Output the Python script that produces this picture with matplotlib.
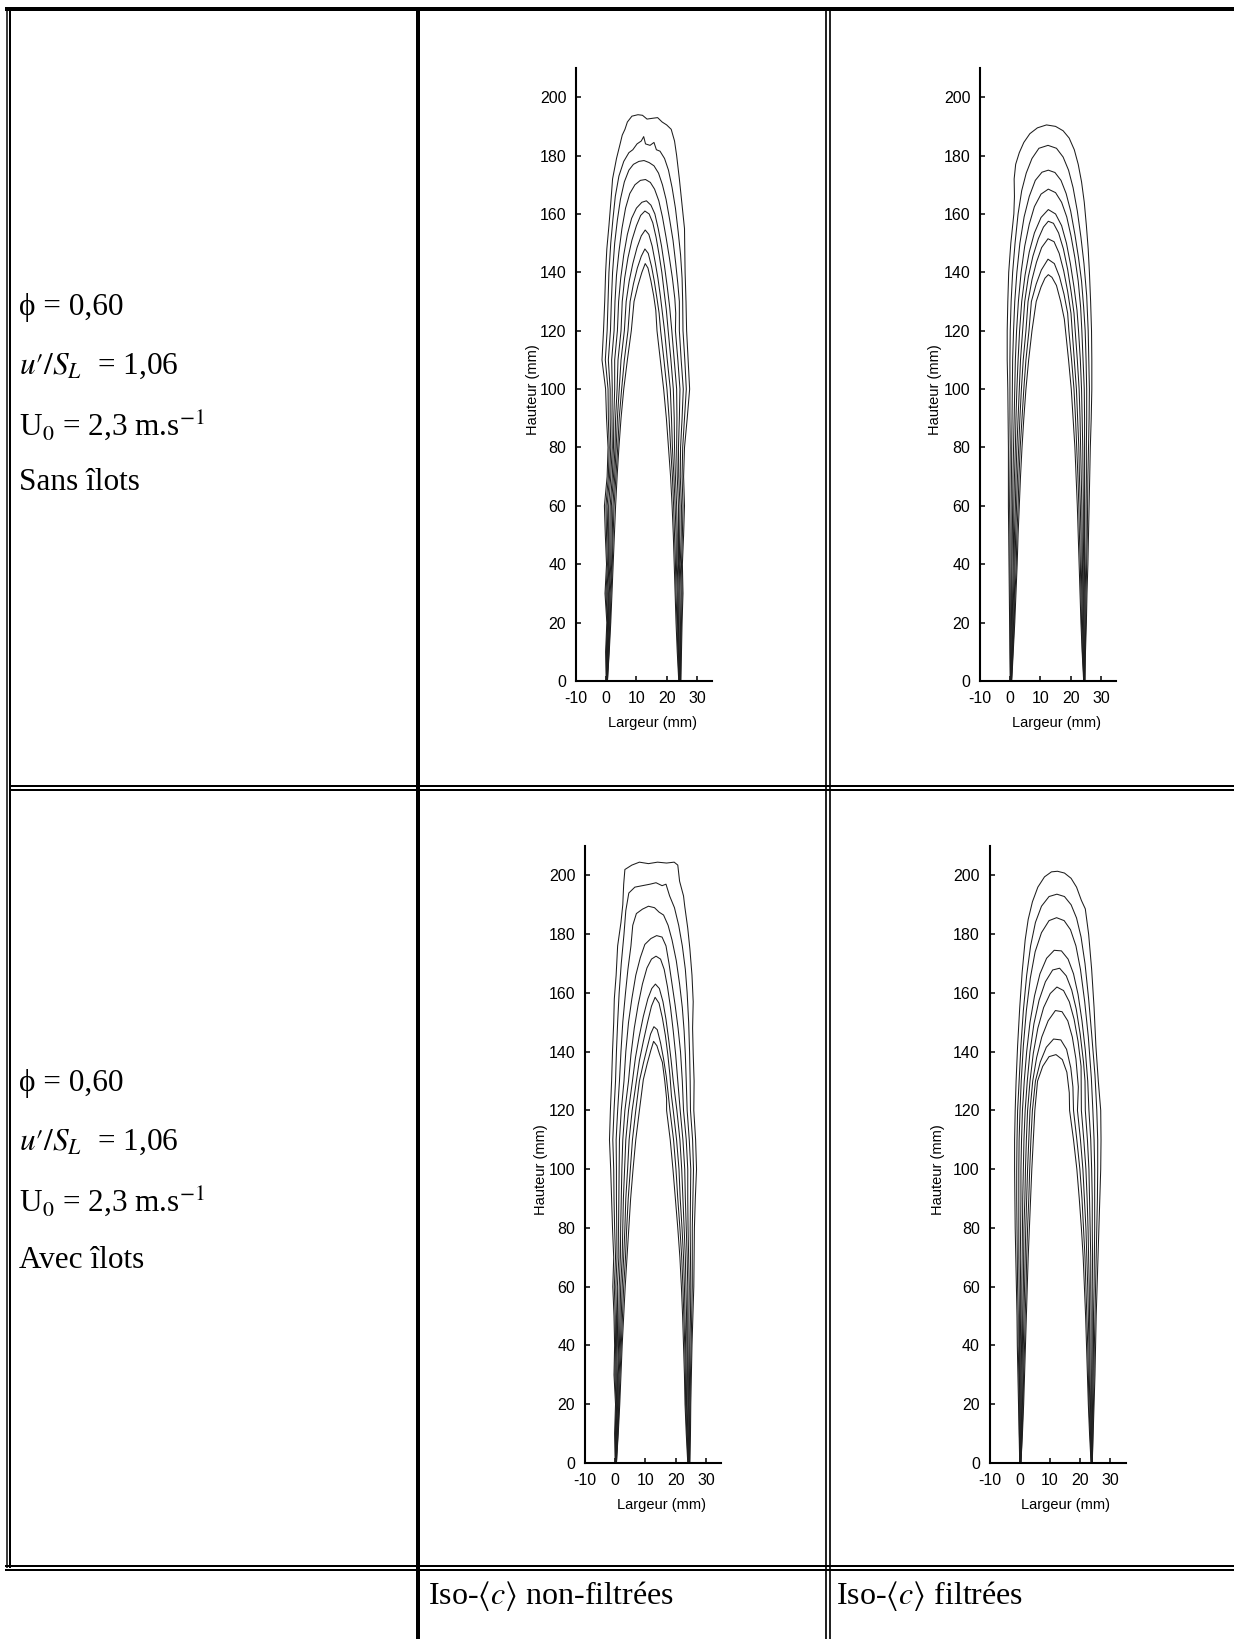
import numpy as np
import matplotlib.pyplot as plt
from matplotlib.lines import Line2D

plt.rcParams['mathtext.fontset'] = 'stix'
plt.rcParams['axes.unicode_minus'] = False

# --- taille de la page (px)
W, H = 1234, 1639

# --- niveaux de hauteur (mm) pour les flancs des iso-<c>
hauteurs = [0, 10, 20, 30, 40, 50, 60, 70, 80, 90, 100, 110, 120]

# ===== Sans ilots, non-filtrees : flanc gauche / flanc droit / calotte (k=0 ext. -> k=8 int.)
sans_brut_g = [
	[0.0, -0.2, 0.2, -0.4, 0.1, -0.3, -0.6, 0.3, 0.6, 0.1, -0.2, -1.4, -0.9],
	[0.1, 0.0, 0.4, -0.1, 0.4, 0.1, -0.1, 0.7, 1.0, 0.7, 0.6, -0.3, 0.3],
	[0.1, 0.1, 0.5, 0.2, 0.7, 0.5, 0.3, 1.1, 1.5, 1.3, 1.3, 0.7, 1.4],
	[0.2, 0.3, 0.7, 0.5, 0.9, 0.8, 0.8, 1.5, 2.0, 1.9, 2.0, 1.8, 2.6],
	[0.2, 0.4, 0.8, 0.8, 1.2, 1.2, 1.3, 2.0, 2.4, 2.5, 2.8, 2.8, 3.7],
	[0.3, 0.6, 1.0, 1.0, 1.5, 1.6, 1.7, 2.4, 2.9, 3.1, 3.6, 3.9, 4.9],
	[0.3, 0.7, 1.2, 1.3, 1.8, 2.0, 2.2, 2.8, 3.3, 3.7, 4.3, 4.9, 6.0],
	[0.4, 0.9, 1.3, 1.6, 2.0, 2.3, 2.6, 3.2, 3.8, 4.3, 5.1, 6.0, 7.2],
	[0.4, 1.0, 1.5, 1.9, 2.3, 2.7, 3.1, 3.6, 4.2, 4.9, 5.8, 7.0, 8.3],
]
sans_brut_d = [
	[24.7, 24.9, 25.1, 25.4, 25.2, 25.6, 25.9, 25.6, 25.9, 26.8, 27.6, 27.1, 26.6],
	[24.6, 24.7, 24.9, 25.1, 24.9, 25.2, 25.4, 25.1, 25.3, 25.9, 26.5, 26.0, 25.4],
	[24.5, 24.6, 24.6, 24.8, 24.5, 24.8, 24.9, 24.5, 24.6, 25.1, 25.5, 24.8, 24.2],
	[24.4, 24.4, 24.4, 24.4, 24.2, 24.3, 24.4, 24.0, 23.9, 24.2, 24.4, 23.7, 22.9],
	[24.4, 24.2, 24.1, 24.1, 23.9, 23.9, 23.9, 23.5, 23.3, 23.4, 23.3, 22.5, 21.7],
	[24.3, 24.0, 23.9, 23.8, 23.5, 23.5, 23.3, 22.9, 22.6, 22.5, 22.2, 21.4, 20.5],
	[24.2, 23.9, 23.6, 23.5, 23.2, 23.1, 22.8, 22.4, 21.9, 21.6, 21.2, 20.2, 19.3],
	[24.1, 23.7, 23.4, 23.1, 22.9, 22.6, 22.3, 21.9, 21.3, 20.8, 20.1, 19.1, 18.0],
	[24.0, 23.5, 23.1, 22.8, 22.5, 22.2, 21.8, 21.3, 20.6, 19.9, 19.0, 17.9, 16.8],
]
sans_brut_cal = [
	[(-0.5, 130), (-0.2, 140), (0.2, 148), (0.9, 156), (1.6, 165), (2.1, 172), (3.4, 179), (4.6, 184),
	 (5.3, 187), (6.2, 189), (7.0, 191.5), (8.5, 193.5), (10.5, 194), (12.0, 193.8), (13.5, 192.5),
	 (15.5, 192.8), (17.0, 193), (18.5, 191.5), (20.0, 190.5), (21.5, 189), (22.6, 185), (23.3, 180),
	 (24.2, 172), (25.1, 163), (25.9, 155), (26.0, 147), (26.1, 140), (26.4, 130)],
	[(0.6, 130), (0.9, 140), (1.5, 150), (2.2, 158), (3.0, 166), (4.2, 173), (5.8, 178), (7.5, 181),
	 (8.8, 182), (10.2, 184), (11.6, 185), (12.4, 186.5), (13.0, 184), (14.5, 183.5), (15.8, 184.5),
	 (16.6, 182), (17.8, 181.5), (19.3, 179), (20.6, 175), (21.8, 169), (22.9, 162), (23.8, 154),
	 (24.6, 146), (25.1, 138), (25.3, 130)],
	[(1.7, 130), (2.1, 140), (2.8, 150), (3.7, 158), (4.7, 165), (6.0, 171), (7.5, 175), (9.0, 177),
	 (10.8, 178), (12.5, 178.3), (14.2, 177.6), (15.8, 176.5), (17.3, 174), (18.6, 170), (19.8, 165),
	 (21.0, 158), (22.1, 151), (23.0, 143), (23.7, 136), (24.2, 130)],
	[(2.9, 130), (3.4, 139), (4.2, 147), (5.2, 155), (6.4, 162), (7.8, 167), (9.5, 170), (11.3, 171.5),
	 (13.0, 171.8), (14.6, 170.8), (16.0, 168.5), (17.4, 164.5), (18.6, 159), (19.8, 152), (20.9, 145),
	 (21.9, 138), (22.7, 131), (23.0, 126)],
	[(4.1, 130), (4.8, 138), (5.8, 146), (7.0, 153), (8.4, 158.5), (10.0, 162), (11.8, 164), (13.3, 164.5),
	 (14.8, 163), (16.1, 160), (17.2, 155), (18.3, 149), (19.3, 142), (20.2, 135), (21.0, 128)],
	[(5.3, 130), (6.1, 138), (7.2, 145), (8.5, 151), (10.0, 156), (11.4, 159.5), (12.8, 161), (14.2, 160),
	 (15.4, 157), (16.5, 152), (17.5, 146), (18.4, 140), (19.2, 133), (19.9, 127)],
	[(6.6, 130), (7.6, 137), (8.8, 143), (10.2, 148.5), (11.6, 152.5), (12.9, 154.5), (14.1, 153),
	 (15.2, 149), (16.2, 143.5), (17.1, 138), (17.9, 132), (18.6, 126)],
	[(7.9, 130), (9.0, 136), (10.3, 141.5), (11.6, 145.5), (12.8, 148), (13.9, 146.5), (15.0, 142),
	 (15.9, 137), (16.8, 131), (17.5, 126)],
	[(9.2, 130), (10.5, 135.5), (11.8, 140), (12.9, 143), (13.8, 141.5), (14.8, 137), (15.7, 132), (16.4, 127)],
]

# ===== Sans ilots, filtrees
sans_filt_g = [
	[0.0, -0.1, -0.2, -0.3, -0.4, -0.5, -0.6, -0.6, -0.6, -0.7, -0.8, -1.0, -1.0],
	[0.1, 0.0, 0.0, 0.0, -0.1, -0.1, -0.2, -0.1, 0.0, -0.1, -0.1, -0.1, 0.0],
	[0.1, 0.2, 0.2, 0.3, 0.3, 0.3, 0.3, 0.4, 0.5, 0.6, 0.7, 0.8, 1.1],
	[0.2, 0.3, 0.4, 0.5, 0.6, 0.7, 0.8, 0.9, 1.1, 1.3, 1.5, 1.7, 2.1],
	[0.3, 0.5, 0.7, 0.8, 1.0, 1.1, 1.2, 1.4, 1.7, 1.9, 2.2, 2.6, 3.1],
	[0.3, 0.6, 0.9, 1.1, 1.3, 1.4, 1.7, 1.9, 2.2, 2.6, 3.0, 3.4, 4.1],
	[0.4, 0.7, 1.1, 1.4, 1.6, 1.8, 2.1, 2.4, 2.8, 3.2, 3.7, 4.3, 5.2],
	[0.4, 0.9, 1.3, 1.6, 2.0, 2.2, 2.6, 2.9, 3.3, 3.9, 4.5, 5.2, 6.2],
	[0.5, 1.0, 1.5, 1.9, 2.3, 2.6, 3.0, 3.4, 3.9, 4.5, 5.2, 6.1, 7.2],
]
sans_filt_d = [
	[24.7, 24.9, 25.2, 25.4, 25.7, 25.9, 26.1, 26.3, 26.5, 26.8, 27.0, 27.0, 26.9],
	[24.7, 24.8, 25.0, 25.1, 25.3, 25.5, 25.6, 25.7, 25.9, 26.1, 26.2, 26.0, 25.8],
	[24.6, 24.6, 24.8, 24.8, 25.0, 25.1, 25.1, 25.2, 25.2, 25.3, 25.3, 25.1, 24.8],
	[24.6, 24.5, 24.5, 24.5, 24.6, 24.6, 24.6, 24.6, 24.6, 24.6, 24.5, 24.1, 23.7],
	[24.5, 24.4, 24.3, 24.3, 24.3, 24.2, 24.2, 24.1, 24.0, 23.8, 23.6, 23.2, 22.6],
	[24.5, 24.2, 24.1, 24.0, 23.9, 23.8, 23.7, 23.5, 23.3, 23.1, 22.8, 22.2, 21.5],
	[24.4, 24.1, 23.9, 23.7, 23.5, 23.4, 23.2, 22.9, 22.7, 22.3, 21.9, 21.2, 20.5],
	[24.4, 23.9, 23.6, 23.4, 23.2, 22.9, 22.7, 22.4, 22.0, 21.6, 21.1, 20.3, 19.4],
	[24.3, 23.8, 23.4, 23.1, 22.8, 22.5, 22.2, 21.8, 21.4, 20.8, 20.2, 19.3, 18.3],
]
sans_filt_cal = [
	[(-0.8, 130), (-0.5, 140), (0.2, 150), (1.2, 160), (1.4, 166), (1.3, 172), (1.8, 177), (3.0, 181),
	 (4.5, 184.5), (6.5, 187.5), (9.0, 189.5), (12.0, 190.5), (15.0, 190), (17.5, 188.5), (19.5, 186),
	 (21.2, 182), (22.5, 177), (23.6, 171), (24.5, 164), (25.2, 156), (25.8, 148), (26.2, 140), (26.6, 130)],
	[(0.3, 130), (0.8, 140), (1.6, 150), (2.6, 160), (3.8, 168), (5.3, 174), (7.2, 179), (9.5, 182.5),
	 (12.5, 183.5), (15.3, 182.5), (17.5, 179.5), (19.3, 175), (20.8, 169), (22.2, 161), (23.4, 152),
	 (24.4, 143), (25.3, 132)],
	[(1.5, 130), (2.2, 140), (3.2, 150), (4.6, 159), (6.3, 166), (8.3, 171.5), (10.5, 174.3), (12.6, 175),
	 (14.8, 174.2), (16.8, 171.5), (18.5, 167), (20.0, 161), (21.4, 153), (22.6, 145), (23.6, 137), (24.3, 128)],
	[(2.7, 130), (3.6, 140), (4.8, 149), (6.3, 156.5), (8.0, 162.5), (10.2, 166.8), (12.6, 168.5),
	 (15.0, 167.3), (17.0, 164), (18.7, 159), (20.1, 152.5), (21.4, 145), (22.5, 137), (23.3, 128)],
	[(3.8, 130), (4.9, 139), (6.3, 147), (8.0, 153.5), (10.2, 158.8), (12.6, 161.5), (15.0, 160), (17.0, 156),
	 (18.6, 150), (19.9, 143), (21.1, 135), (22.1, 127)],
	[(4.8, 130), (6.0, 138.5), (7.5, 145.5), (9.3, 151.5), (11.0, 155.5), (12.6, 157.5), (14.3, 156.8),
	 (16.0, 153.5), (17.6, 148), (19.0, 141), (20.2, 133), (21.1, 126)],
	[(5.9, 130), (7.2, 137.5), (8.7, 143.5), (10.4, 148.5), (12.5, 151.5), (14.5, 150.5), (16.2, 146.5),
	 (17.7, 140.5), (19.0, 133.5), (20.1, 126)],
	[(7.0, 130), (8.6, 136), (10.3, 140.8), (12.5, 144.5), (14.6, 143), (16.3, 138.5), (17.8, 132.5), (19.0, 126)],
	[(8.6, 130), (10.2, 135), (11.5, 138), (12.6, 139.2), (13.8, 138.3), (15.3, 135.5), (16.7, 130), (17.9, 124)],
]

# ===== Avec ilots, non-filtrees
avec_brut_g = [
	[0.0, -0.2, 0.1, -0.4, -0.2, -0.4, -0.8, -0.5, -0.9, -1.2, -1.5, -1.9, -1.6],
	[0.1, 0.0, 0.3, -0.1, 0.1, 0.0, -0.3, 0.1, -0.2, -0.4, -0.5, -0.8, -0.4],
	[0.1, 0.1, 0.5, 0.2, 0.4, 0.4, 0.2, 0.6, 0.5, 0.4, 0.4, 0.3, 0.8],
	[0.2, 0.3, 0.6, 0.5, 0.7, 0.8, 0.7, 1.2, 1.1, 1.2, 1.3, 1.4, 2.0],
	[0.2, 0.4, 0.8, 0.8, 1.1, 1.2, 1.3, 1.7, 1.8, 2.0, 2.2, 2.5, 3.2],
	[0.3, 0.6, 1.0, 1.0, 1.4, 1.6, 1.8, 2.3, 2.5, 2.7, 3.1, 3.5, 4.4],
	[0.3, 0.7, 1.2, 1.3, 1.7, 2.0, 2.3, 2.8, 3.2, 3.5, 4.1, 4.6, 5.6],
	[0.4, 0.9, 1.3, 1.6, 2.0, 2.4, 2.8, 3.4, 3.8, 4.3, 5.0, 5.7, 6.8],
	[0.4, 1.0, 1.5, 1.9, 2.3, 2.8, 3.3, 3.9, 4.5, 5.1, 5.9, 6.8, 8.0],
]
avec_brut_d = [
	[24.7, 24.9, 25.0, 25.2, 25.4, 25.7, 26.0, 26.1, 26.2, 26.5, 26.9, 26.6, 26.0],
	[24.6, 24.7, 24.8, 24.9, 25.1, 25.3, 25.5, 25.5, 25.5, 25.7, 25.9, 25.6, 24.9],
	[24.5, 24.6, 24.5, 24.6, 24.7, 24.9, 25.0, 24.9, 24.8, 24.9, 25.0, 24.5, 23.8],
	[24.4, 24.4, 24.3, 24.3, 24.4, 24.4, 24.5, 24.3, 24.1, 24.0, 24.0, 23.5, 22.6],
	[24.4, 24.2, 24.1, 24.0, 24.0, 24.0, 24.0, 23.8, 23.5, 23.2, 23.0, 22.4, 21.5],
	[24.3, 24.0, 23.8, 23.8, 23.7, 23.6, 23.4, 23.2, 22.8, 22.4, 22.0, 21.4, 20.4],
	[24.2, 23.8, 23.6, 23.5, 23.3, 23.1, 22.9, 22.6, 22.1, 21.5, 21.1, 20.3, 19.2],
	[24.1, 23.7, 23.3, 23.2, 23.0, 22.7, 22.4, 22.0, 21.4, 20.7, 20.1, 19.3, 18.1],
	[24.0, 23.5, 23.1, 22.9, 22.6, 22.3, 21.9, 21.4, 20.7, 19.9, 19.1, 18.2, 17.0],
]
avec_brut_cal = [
	[(-1.2, 130), (-0.9, 140), (-0.5, 150), (-0.3, 158), (0.3, 166), (0.8, 176), (1.9, 184), (2.5, 190),
	 (2.8, 197), (3.2, 202), (5.5, 203.5), (8.0, 204.5), (11.0, 204), (14.0, 204.5), (17.0, 204.2),
	 (19.5, 204.5), (20.7, 203.5), (21.3, 198), (22.6, 193), (23.0, 189.5), (24.0, 182), (24.7, 175),
	 (25.4, 166), (25.8, 157), (25.6, 148), (25.8, 139.4), (26.1, 130)],
	[(0.1, 130), (0.4, 140), (0.8, 150), (1.3, 160), (2.0, 170), (2.9, 180), (3.5, 188), (4.5, 194),
	 (6.5, 196), (9.0, 196.5), (11.5, 197), (13.5, 197.5), (15.5, 196.5), (16.8, 197), (18.0, 193),
	 (19.6, 189), (21.0, 183), (22.2, 176), (23.2, 168), (23.8, 160), (24.3, 150), (24.6, 140), (24.8, 130)],
	[(1.4, 130), (1.9, 140), (2.5, 150), (3.4, 160), (4.2, 168), (5.2, 176), (5.8, 183), (7.0, 187),
	 (9.0, 188.5), (11.0, 189.5), (13.0, 189), (14.5, 187.5), (16.0, 186.5), (17.5, 183), (18.8, 178),
	 (20.2, 171), (21.3, 163), (22.2, 155), (22.8, 147), (23.2, 139), (23.5, 130)],
	[(2.9, 130), (3.5, 140), (4.4, 150), (5.5, 158), (6.8, 166), (8.3, 172), (9.8, 176.5), (11.8, 178.5),
	 (13.7, 179.5), (15.5, 179), (16.8, 176), (17.8, 170), (18.8, 163), (19.8, 156), (20.8, 148),
	 (21.6, 140), (22.2, 130)],
	[(4.4, 130), (5.2, 139), (6.3, 148), (7.6, 156), (9.0, 163), (10.5, 168.5), (12.0, 171.5), (13.5, 172.5),
	 (15.0, 171.5), (16.2, 168), (17.3, 162), (18.3, 155), (19.2, 147), (20.0, 139), (20.7, 130)],
	[(5.7, 130), (6.7, 138), (7.9, 145), (9.3, 152), (10.8, 158), (12.1, 161.5), (13.3, 163), (14.6, 161.5),
	 (15.8, 157), (16.8, 151), (17.7, 144), (18.5, 137), (19.2, 130)],
	[(7.0, 130), (8.0, 137), (9.3, 143.5), (10.7, 150), (12.0, 155.5), (13.2, 158.5), (14.5, 156.5),
	 (15.6, 151.5), (16.6, 145.5), (17.4, 139), (18.1, 132), (18.6, 125)],
	[(8.0, 130), (9.3, 136), (10.6, 141.5), (11.7, 146), (12.8, 148.5), (13.9, 147.5), (15.0, 143),
	 (16.0, 137.5), (16.9, 131.5), (17.6, 125)],
	[(9.3, 130.5), (10.6, 136), (11.8, 140.5), (12.7, 143.5), (13.8, 142), (14.7, 139), (15.6, 136.4),
	 (16.4, 130), (17.0, 124)],
]

# ===== Avec ilots, filtrees
avec_filt_g = [
	[0.0, -0.2, -0.4, -0.6, -0.8, -0.9, -1.1, -1.3, -1.5, -1.6, -1.7, -1.7, -1.5],
	[0.1, -0.1, -0.2, -0.3, -0.5, -0.5, -0.7, -0.8, -0.9, -1.0, -1.0, -0.9, -0.7],
	[0.1, 0.1, 0.0, -0.1, -0.1, -0.1, -0.2, -0.3, -0.3, -0.3, -0.3, -0.2, 0.1],
	[0.2, 0.2, 0.2, 0.2, 0.2, 0.3, 0.3, 0.2, 0.3, 0.4, 0.4, 0.6, 0.9],
	[0.2, 0.4, 0.5, 0.5, 0.6, 0.7, 0.7, 0.8, 0.9, 1.0, 1.2, 1.4, 1.8],
	[0.3, 0.5, 0.7, 0.8, 0.9, 1.0, 1.2, 1.3, 1.4, 1.7, 1.9, 2.2, 2.6],
	[0.3, 0.6, 0.9, 1.1, 1.2, 1.4, 1.6, 1.8, 2.0, 2.3, 2.6, 3.0, 3.4],
	[0.4, 0.8, 1.1, 1.3, 1.6, 1.8, 2.1, 2.3, 2.6, 3.0, 3.3, 3.7, 4.2],
	[0.4, 0.9, 1.3, 1.6, 1.9, 2.2, 2.5, 2.8, 3.2, 3.6, 4.0, 4.5, 5.0],
]
avec_filt_d = [
	[24.0, 24.3, 24.6, 24.9, 25.1, 25.3, 25.6, 25.9, 26.2, 26.5, 26.8, 26.9, 26.8],
	[24.0, 24.2, 24.4, 24.6, 24.7, 24.9, 25.1, 25.3, 25.5, 25.7, 25.8, 25.8, 25.5],
	[23.9, 24.0, 24.1, 24.3, 24.4, 24.4, 24.6, 24.7, 24.8, 24.8, 24.8, 24.6, 24.2],
	[23.9, 23.9, 23.9, 24.0, 24.0, 24.0, 24.0, 24.1, 24.0, 24.0, 23.8, 23.5, 22.9],
	[23.8, 23.7, 23.7, 23.7, 23.6, 23.6, 23.5, 23.5, 23.3, 23.1, 22.9, 22.4, 21.7],
	[23.8, 23.6, 23.4, 23.3, 23.2, 23.1, 23.0, 22.8, 22.6, 22.3, 21.9, 21.2, 20.4],
	[23.7, 23.4, 23.2, 23.0, 22.9, 22.7, 22.5, 22.2, 21.9, 21.4, 20.9, 20.1, 19.1],
	[23.7, 23.3, 22.9, 22.7, 22.5, 22.2, 21.9, 21.6, 21.1, 20.6, 19.9, 18.9, 17.8],
	[23.6, 23.1, 22.7, 22.4, 22.1, 21.8, 21.4, 21.0, 20.4, 19.7, 18.9, 17.8, 16.5],
]
avec_filt_cal = [
	[(-1.2, 130), (-0.7, 142), (0.0, 155), (0.8, 167), (1.8, 178), (2.8, 185), (4.2, 191), (6.0, 196),
	 (8.2, 199.5), (10.5, 201.2), (12.5, 201.4), (14.8, 200.8), (17.0, 199), (18.8, 196), (20.4, 191.5),
	 (21.7, 188.6), (22.8, 180), (23.8, 168), (24.6, 155), (25.2, 142), (26.0, 130)],
	[(-0.2, 130), (0.4, 142), (1.2, 154), (2.3, 166), (3.6, 176), (5.2, 184), (7.2, 189.5), (9.7, 192.8),
	 (12.3, 193.6), (14.8, 192.8), (17.0, 190), (18.8, 185.5), (20.3, 179), (21.6, 170), (22.8, 158),
	 (23.8, 146), (24.9, 132)],
	[(0.5, 130), (1.2, 142), (2.2, 154), (3.5, 165), (5.1, 174), (7.2, 180.5), (9.7, 184.6), (12.2, 185.6),
	 (14.7, 184.6), (16.8, 181.5), (18.6, 176), (20.1, 168), (21.5, 157), (22.7, 145), (23.7, 131)],
	[(1.5, 130), (2.3, 140), (3.4, 150), (4.9, 159), (6.7, 166.5), (8.9, 171.8), (11.4, 174.5), (13.8, 174.3),
	 (16.0, 171.5), (17.8, 166.5), (19.3, 159.5), (20.6, 150.5), (21.7, 140.5), (22.5, 130)],
	[(2.5, 130), (3.4, 140), (4.7, 149.5), (6.4, 157.5), (8.5, 163.8), (10.9, 167.8), (13.2, 168.4),
	 (15.4, 165.8), (17.2, 161), (18.7, 154.5), (20.0, 146), (21.1, 136.5), (21.6, 130)],
	[(3.4, 130), (4.5, 139.5), (6.0, 148), (7.9, 155), (10.1, 159.8), (12.3, 162), (14.5, 160.8),
	 (16.4, 157), (18.0, 151), (19.3, 143.5), (20.3, 135)],
	[(4.3, 130), (5.6, 138), (7.3, 145), (9.4, 150.5), (11.8, 154), (14.0, 153.6), (15.9, 150.5),
	 (17.4, 145), (18.6, 137.5), (19.4, 128)],
	[(5.2, 130), (6.8, 136.5), (8.8, 141.5), (11.2, 144.3), (13.6, 144), (15.5, 140.8), (16.9, 134.5), (17.6, 128)],
	[(5.9, 130), (7.6, 135), (9.7, 138.3), (12.0, 139), (14.1, 137.3), (15.6, 133), (16.4, 126)],
]

# --- textes du tableau
texte_rangee_1 = ['ϕ = 0,60', r"$u\prime/S_L$  = 1,06", r'U$_0$ = 2,3 m.s$^{-1}$', 'Sans îlots']
texte_rangee_2 = ['ϕ = 0,60', r"$u\prime/S_L$  = 1,06", r'U$_0$ = 2,3 m.s$^{-1}$', 'Avec îlots']
texte_colonnes = [r'Iso-$\langle c\rangle$ non-filtrées', r'Iso-$\langle c\rangle$ filtrées']


def iso_c(gauche, calotte, droite):
	xs = list(gauche) + [p[0] for p in calotte] + list(droite)[::-1]
	ys = list(hauteurs) + [p[1] for p in calotte] + list(hauteurs)[::-1]
	return xs, ys


def px_axes(fig, left, bottom, width, height):
	# positions in pixels (from top-left) -> figure fraction
	return fig.add_axes([left/W, 1 - bottom/H, width/W, height/H])


def px_line(fig, x0, y0, x1, y1, lw):
	fig.add_artist(Line2D([x0/W, x1/W], [1 - y0/H, 1 - y1/H], lw=lw*0.72,
		color='black', transform=fig.transFigure, solid_capstyle='butt'))


fig = plt.figure(figsize=(W/100, H/100), dpi=100)

# --- table borders
px_line(fig, 5, 9, W, 9, 4)			# top
px_line(fig, 6.5, 7, 6.5, 1568, 1.5)	# left outer
px_line(fig, 10.5, 11, 10.5, 1568, 2)	# left inner
px_line(fig, 418, 7, 418, H, 4)		# col 1 | col 2
px_line(fig, 826, 9, 826, H, 1.7)		# col 2 | col 3
px_line(fig, 829.5, 9, 829.5, H, 1.7)
px_line(fig, 10, 786, W, 786, 2)		# row 1 | row 2
px_line(fig, 10, 789.5, W, 789.5, 2)
px_line(fig, 5, 1566, W, 1566, 2)		# row 2 | row 3
px_line(fig, 5, 1570, W, 1570, 2)

# --- left column text
serif = ['Liberation Serif', 'DejaVu Serif']
for i, t in enumerate(texte_rangee_1):
	fig.text(19/W, 1 - [307, 366, 426, 482][i]/H, t, family=serif, fontsize=22.5, va='center', ha='left')
for i, t in enumerate(texte_rangee_2):
	fig.text(19/W, 1 - [1083, 1142, 1202, 1260][i]/H, t, family=serif, fontsize=22.5, va='center', ha='left')
fig.text(428/W, 1 - 1596/H, texte_colonnes[0], family=serif, fontsize=23, va='center', ha='left')
fig.text(836/W, 1 - 1596/H, texte_colonnes[1], family=serif, fontsize=23, va='center', ha='left')

# --- the four iso-<c> panels
panneaux = [
	((576, 681, 136, 613), -0.265, sans_brut_g, sans_brut_cal, sans_brut_d),
	((980, 681, 136, 613), -0.28, sans_filt_g, sans_filt_cal, sans_filt_d),
	((585, 1463, 136, 617), -0.27, avec_brut_g, avec_brut_cal, avec_brut_d),
	((989.5, 1463, 136, 617), -0.325, avec_filt_g, avec_filt_cal, avec_filt_d),
]
for pos, ylab_x, g, cal, d in panneaux:
	ax = px_axes(fig, *pos)
	for k in range(len(g)):
		xs, ys = iso_c(g[k], cal[k], d[k])
		ax.plot(xs, ys, '-', color='#1e1e1e', lw=0.75)
	ax.set_xlim(-10, 35)
	ax.set_ylim(0, 210)
	ax.set_xticks([-10, 0, 10, 20, 30])
	ax.set_yticks(np.arange(0, 201, 20))
	for s in ['top', 'right']:
		ax.spines[s].set_visible(False)
	for s in ['left', 'bottom']:
		ax.spines[s].set_linewidth(1.5)
	ax.tick_params(direction='in', length=3.6, width=1.1, labelsize=11.5)
	ax.tick_params(axis='x', pad=7)
	ax.tick_params(axis='y', pad=7)
	for lab in ax.get_xticklabels() + ax.get_yticklabels():
		lab.set_family('Liberation Sans')
	ax.set_xlabel('Largeur (mm)', family='Liberation Sans', fontsize=10.5)
	ax.set_ylabel('Hauteur (mm)', family='Liberation Sans', fontsize=10.5)
	ax.xaxis.set_label_coords(0.56, -0.057)
	ax.yaxis.set_label_coords(ylab_x, 0.476)
	ax.patch.set_alpha(0)

fig.savefig('out.png', dpi=100)
